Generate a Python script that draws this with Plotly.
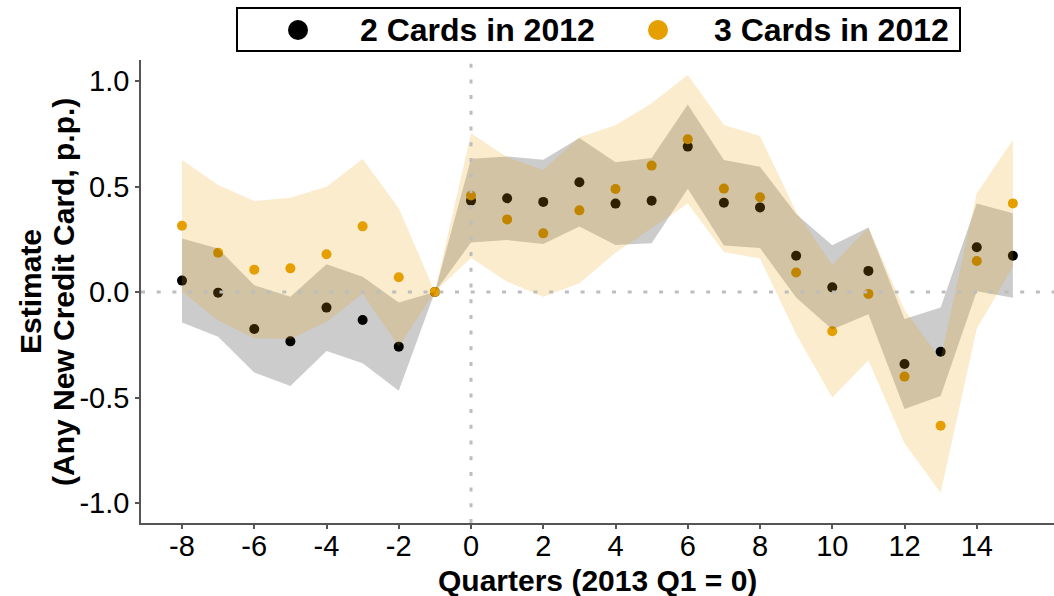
import plotly.graph_objects as go

# Event-study quarters relative to 2013 Q1
quarters = list(range(-8, 16))

# 2 Cards in 2012: point estimates and 95% bands
est_2cards = [0.054, -0.003, -0.175, -0.234, -0.074, -0.133, -0.259, 0.0,
              0.433, 0.444, 0.427, 0.520, 0.419, 0.433, 0.689, 0.423,
              0.401, 0.172, 0.022, 0.100, -0.341, -0.283, 0.212, 0.172]
lo_2cards = [-0.145, -0.212, -0.382, -0.445, -0.280, -0.338, -0.468, 0.0,
             0.234, 0.246, 0.227, 0.310, 0.223, 0.231, 0.489, 0.220,
             0.208, -0.026, -0.178, -0.106, -0.554, -0.493, 0.004, -0.027]
hi_2cards = [0.253, 0.206, 0.032, -0.023, 0.132, 0.072, -0.050, 0.0,
             0.632, 0.642, 0.627, 0.730, 0.615, 0.635, 0.889, 0.626,
             0.594, 0.370, 0.222, 0.306, -0.128, -0.073, 0.420, 0.373]

# 3 Cards in 2012: point estimates and 95% bands
est_3cards = [0.314, 0.186, 0.106, 0.112, 0.179, 0.311, 0.070, 0.0,
              0.457, 0.344, 0.278, 0.387, 0.488, 0.599, 0.724, 0.490,
              0.449, 0.092, -0.186, -0.009, -0.401, -0.634, 0.147, 0.420]
lo_3cards = [0.002, -0.135, -0.219, -0.223, -0.141, -0.008, -0.257, 0.0,
             0.162, 0.049, -0.022, 0.041, 0.186, 0.304, 0.420, 0.189,
             0.159, -0.200, -0.500, -0.324, -0.717, -0.951, -0.174, 0.120]
hi_3cards = [0.626, 0.507, 0.431, 0.447, 0.499, 0.630, 0.397, 0.0,
             0.752, 0.639, 0.578, 0.733, 0.790, 0.894, 1.028, 0.791,
             0.739, 0.380, 0.128, 0.306, -0.085, -0.317, 0.468, 0.720]

x_ticks = list(range(-8, 16, 2))
y_ticks = [-1.0, -0.5, 0.0, 0.5, 1.0]
y_tick_labels = ["-1.0", "-0.5", "0.0", "0.5", "1.0"]
series_names = ["2 Cards in 2012", "3 Cards in 2012"]

BLACK = "#000000"
ORANGE = "#E69F00"
FONT = "Liberation Sans, Arial, Helvetica, sans-serif"

# figure geometry (pixels)
W, H = 1054, 596
ML, MR, MT, MB = 141, 0, 60, 73
PW, PH = W - ML - MR, H - MT - MB


def px_x(px):
    return (px - ML) / PW


def px_y(py):
    return (H - MB - py) / PH


fig = go.Figure()

# points first; the bands are layered over them
fig.add_trace(go.Scatter(x=quarters, y=est_2cards, mode="markers",
                         marker=dict(color=BLACK, size=10, line=dict(width=0)),
                         name=series_names[0], showlegend=False))
fig.add_trace(go.Scatter(x=quarters, y=est_3cards, mode="markers",
                         marker=dict(color=ORANGE, size=10, line=dict(width=0)),
                         name=series_names[1], showlegend=False))

for lo, hi, fill in [(lo_2cards, hi_2cards, "rgba(0,0,0,0.2)"),
                     (lo_3cards, hi_3cards, "rgba(230,159,0,0.2)")]:
    fig.add_trace(go.Scatter(x=quarters, y=lo, mode="lines",
                             line=dict(width=0), showlegend=False,
                             hoverinfo="skip"))
    fig.add_trace(go.Scatter(x=quarters, y=hi, mode="lines",
                             line=dict(width=0), fill="tonexty",
                             fillcolor=fill, showlegend=False,
                             hoverinfo="skip"))

# dotted reference lines at zero
dot = dict(color="#bdbdbd", width=3, dash="4px,11.7px")
fig.add_shape(type="line", xref="paper", yref="y", x0=0, x1=1, y0=0, y1=0,
              line=dot, layer="above")
fig.add_shape(type="line", xref="x", yref="paper", x0=0, x1=0, y0=0, y1=1,
              line=dot, layer="above")

# legend box with markers and labels
fig.add_shape(type="rect", xref="paper", yref="paper",
              x0=px_x(237), x1=px_x(960), y0=px_y(51), y1=px_y(8),
              line=dict(color="black", width=2), fillcolor="white",
              layer="above")
for cx, col, label, tx in [(298, BLACK, series_names[0], 358),
                           (658, ORANGE, series_names[1], 712)]:
    fig.add_shape(type="circle", xref="paper", yref="paper",
                  xsizemode="pixel", ysizemode="pixel",
                  xanchor=px_x(cx), yanchor=px_y(30),
                  x0=-10, x1=10, y0=-10, y1=10,
                  fillcolor=col, line=dict(width=0), layer="above")
    fig.add_annotation(xref="paper", yref="paper", x=px_x(tx), y=px_y(30),
                       xanchor="left", yanchor="middle", showarrow=False,
                       text="<b>" + label + "</b>",
                       font=dict(family=FONT, size=32, color="black"))

# y-axis title in two centred lines
fig.add_annotation(xref="paper", yref="paper", x=px_x(30), y=px_y(292),
                   xanchor="center", yanchor="middle", showarrow=False,
                   textangle=-90, text="<b>Estimate</b>",
                   font=dict(family=FONT, size=30, color="black"))
fig.add_annotation(xref="paper", yref="paper", x=px_x(63), y=px_y(292),
                   xanchor="center", yanchor="middle", showarrow=False,
                   textangle=-90, text="<b>(Any New Credit Card, p.p.)</b>",
                   font=dict(family=FONT, size=30, color="black"))

# x-axis title
fig.add_annotation(xref="paper", yref="paper", x=0.5, y=px_y(580),
                   xanchor="center", yanchor="middle", showarrow=False,
                   text="<b>Quarters (2013 Q1 = 0)</b>",
                   font=dict(family=FONT, size=30, color="black"))

axis_common = dict(showgrid=False, zeroline=False, showline=True,
                   linecolor="#555555", linewidth=1.5, ticks="outside",
                   ticklen=4, tickcolor="#555555", tickwidth=1.5,
                   tickfont=dict(family=FONT, size=29, color="black"))

fig.update_layout(
    width=W, height=H,
    margin=dict(l=ML, r=MR, t=MT, b=MB),
    paper_bgcolor="white", plot_bgcolor="white",
    showlegend=False,
    xaxis=dict(range=[-9.135, 16.138], tickvals=x_ticks,
               ticktext=[str(v) for v in x_ticks],
               ticklabelstandoff=-8, **axis_common),
    yaxis=dict(range=[-1.0948, 1.0995], tickvals=y_ticks,
               ticktext=y_tick_labels, **axis_common),
)

fig.write_html("out.html")
